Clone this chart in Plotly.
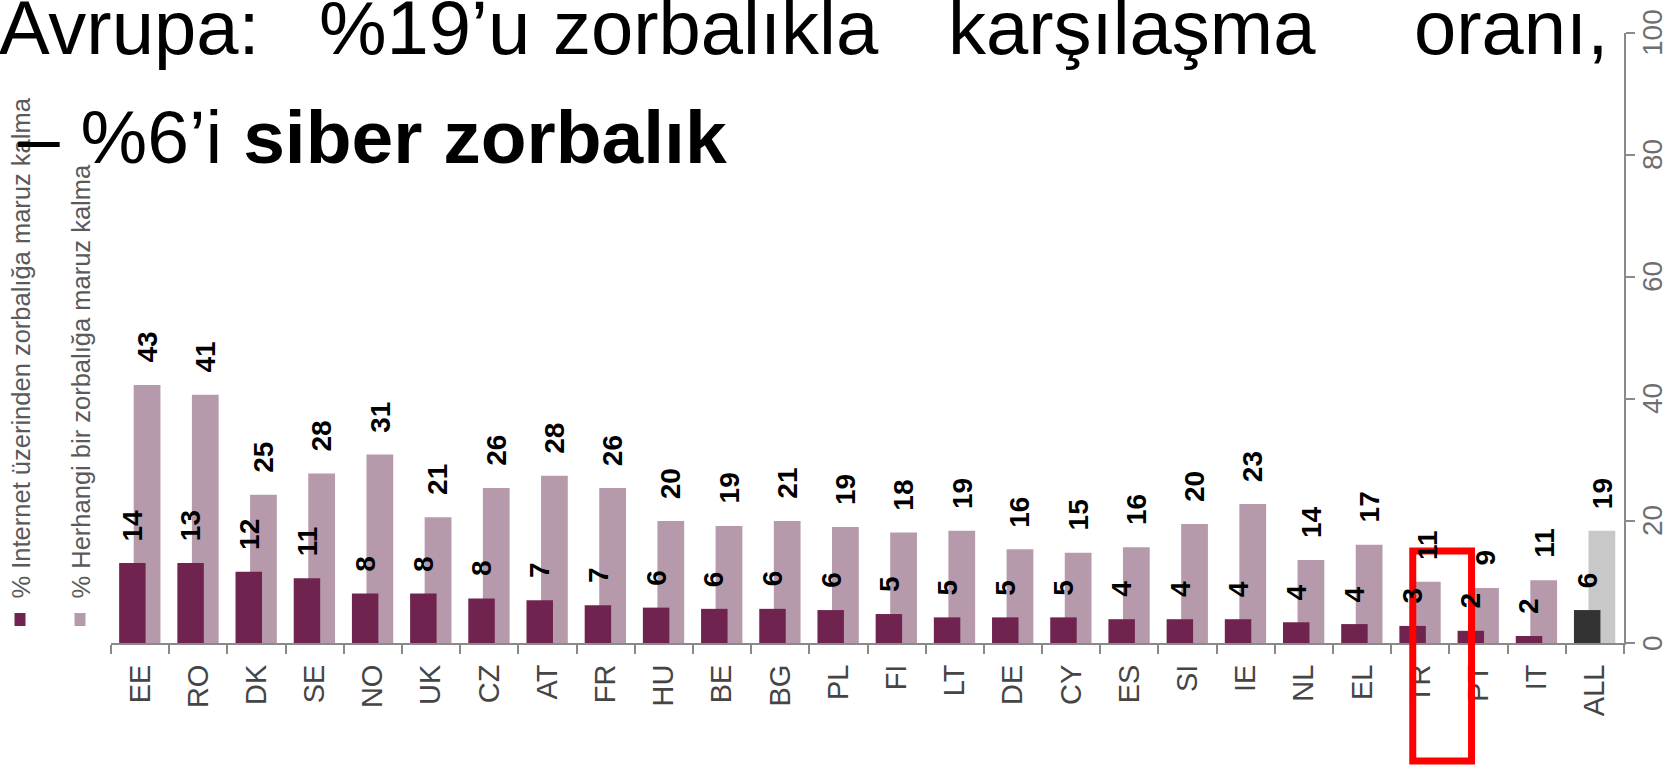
import plotly.graph_objects as go

# ---------------- data ----------------
countries = ["EE", "RO", "DK", "SE", "NO", "UK", "CZ", "AT", "FR", "HU", "BE", "BG", "PL",
             "FI", "LT", "DE", "CY", "ES", "SI", "IE", "NL", "EL", "TR", "PT", "IT", "ALL"]
# % Internet üzerinden zorbalığa maruz kalma (bar heights as drawn / printed labels)
online_vals = [13.1, 13.1, 11.7, 10.6, 8.1, 8.1, 7.3, 7.0, 6.2, 5.8, 5.6, 5.6, 5.4,
               4.75, 4.2, 4.2, 4.2, 3.9, 3.9, 3.9, 3.4, 3.1, 2.8, 2.0, 1.15, 5.4]
online_labels = [14, 13, 12, 11, 8, 8, 8, 7, 7, 6, 6, 6, 6, 5, 5, 5, 5, 4, 4, 4, 4, 4, 3, 2, 2, 6]
# % Herhangi bir zorbalığa maruz kalma
any_vals = [42.3, 40.7, 24.3, 27.8, 30.9, 20.6, 25.4, 27.4, 25.4, 20.0, 19.2, 20.0, 19.0,
            18.1, 18.4, 15.35, 14.8, 15.7, 19.5, 22.8, 13.6, 16.1, 10.05, 9.0, 10.3, 18.4]
any_labels = [43, 41, 25, 28, 31, 21, 26, 28, 26, 20, 19, 21, 19, 18, 19, 16, 15, 16, 20, 23, 14, 17, 11, 9, 11, 19]

series_names = ["% Internet üzerinden zorbalığa maruz kalma", "% Herhangi bir zorbalığa maruz kalma"]
y_ticks = [0, 20, 40, 60, 80, 100]
highlight = "TR"

# ---------------- style ----------------
DARK = "#71234F"
LIGHT = "#B69AAC"
ALL_DARK = "#333333"
ALL_LIGHT = "#C8C8C8"
AXIS = "#8a8a8a"
FONT = "Liberation Sans, Arial, sans-serif"

WIN_W, WIN_H = 1677, 765
L, R, T, B = 111, 1624, 33, 643   # plot area in window pixels
PW, PH = R - L, B - T


def px(x):
    return (x - L) / PW


def py(y):
    return (B - y) / PH


dark_colors = [ALL_DARK if c == "ALL" else DARK for c in countries]
light_colors = [ALL_LIGHT if c == "ALL" else LIGHT for c in countries]

DARK_OFF, DARK_W = -0.36, 0.455
LIGHT_OFF, LIGHT_W = -0.11, 0.46

fig = go.Figure()
fig.add_trace(go.Bar(x=countries, y=any_vals, name=series_names[1], offset=LIGHT_OFF, width=LIGHT_W,
                     marker=dict(color=light_colors, line=dict(width=0)), showlegend=False))
fig.add_trace(go.Bar(x=countries, y=online_vals, name=series_names[0], offset=DARK_OFF, width=DARK_W,
                     marker=dict(color=dark_colors, line=dict(width=0)), showlegend=False))

annotations = []
LABEL_FONT = dict(family=FONT, size=28, color="#000000", weight="bold")
for i, c in enumerate(countries):
    annotations.append(dict(x=i + DARK_OFF + DARK_W / 2, y=online_vals[i], xref="x", yref="y",
                            text=str(online_labels[i]), showarrow=False, textangle=-90,
                            xanchor="center", yanchor="bottom", yshift=20, font=LABEL_FONT))
    annotations.append(dict(x=i + LIGHT_OFF + LIGHT_W / 2, y=any_vals[i], xref="x", yref="y",
                            text=str(any_labels[i]), showarrow=False, textangle=-90,
                            xanchor="center", yanchor="bottom", yshift=20, font=LABEL_FONT))

# y tick labels (rotated, right of the axis)
for v in y_ticks:
    annotations.append(dict(x=px(1652), y=v, xref="paper", yref="y", text=str(v),
                            showarrow=False, textangle=-90, xanchor="center", yanchor="middle",
                            font=dict(family=FONT, size=28, color="#6e6e6e")))

# rotated legend (text reading bottom-to-top)
legend_x = [20, 80]
legend_colors = [DARK, LIGHT]
shapes = []
for k in range(2):
    annotations.append(dict(x=px(legend_x[k]), y=py(601), xref="paper", yref="paper",
                            text=series_names[k], showarrow=False, textangle=-90,
                            xanchor="center", yanchor="bottom",
                            font=dict(family=FONT, size=25.5, color="#5a5a5a")))
    shapes.append(dict(type="rect", xref="paper", yref="paper",
                       x0=px(legend_x[k] - 5.5), x1=px(legend_x[k] + 5.5),
                       y0=py(626), y1=py(613), fillcolor=legend_colors[k], line=dict(width=0)))

# slide title (justified first line)
line1_words = [("Avrupa:", -3, "left"), ("%19’u", 317, "left"), ("zorbalıkla", 551, "left"),
               ("karşılaşma", 946, "left"), ("oranı,", 1610, "right")]
for word, xpos, anchor in line1_words:
    annotations.append(dict(x=px(xpos), y=py(-17), xref="paper", yref="paper", text=word,
                            showarrow=False, xanchor=anchor, yanchor="top",
                            font=dict(family=FONT, size=76, color="#000000")))
annotations.append(dict(x=px(16), y=py(93), xref="paper", yref="paper",
                        text="– %6’i <b>siber zorbalık</b>", showarrow=False,
                        xanchor="left", yanchor="top",
                        font=dict(family=FONT, size=75, color="#000000")))

# red highlight box around TR
ti = countries.index(highlight)
shapes.append(dict(type="rect", xref="x", yref="paper", x0=ti - 0.13, x1=ti + 0.88,
                   y0=py(761), y1=py(551), line=dict(color="#FF0000", width=7),
                   fillcolor="rgba(0,0,0,0)", layer="above"))

fig.update_layout(
    template="none",
    width=WIN_W, height=WIN_H,
    margin=dict(l=L, r=WIN_W - R, t=T, b=WIN_H - B, pad=0),
    paper_bgcolor="white", plot_bgcolor="white",
    barmode="overlay",
    showlegend=False,
    hovermode=False,
    annotations=annotations,
    shapes=shapes,
    xaxis=dict(type="category", categoryorder="array", categoryarray=countries,
               range=[-0.5, len(countries) - 0.5], automargin=False,
               showline=True, linecolor=AXIS, linewidth=2, showgrid=False, zeroline=False,
               ticks="outside", tickson="boundaries", ticklen=9, tickwidth=2, tickcolor=AXIS,
               tickangle=-90, ticklabelstandoff=8,
               tickfont=dict(family=FONT, size=29, color="#454545")),
    yaxis=dict(side="right", range=[0, 100], tickvals=y_ticks, automargin=False,
               showline=True, linecolor=AXIS, linewidth=2, showgrid=False, zeroline=False,
               ticks="outside", ticklen=9, tickwidth=2, tickcolor=AXIS, showticklabels=False),
)

fig.write_html("out.html", config={"displayModeBar": False},
               post_script="document.body.style.margin='0px';")
